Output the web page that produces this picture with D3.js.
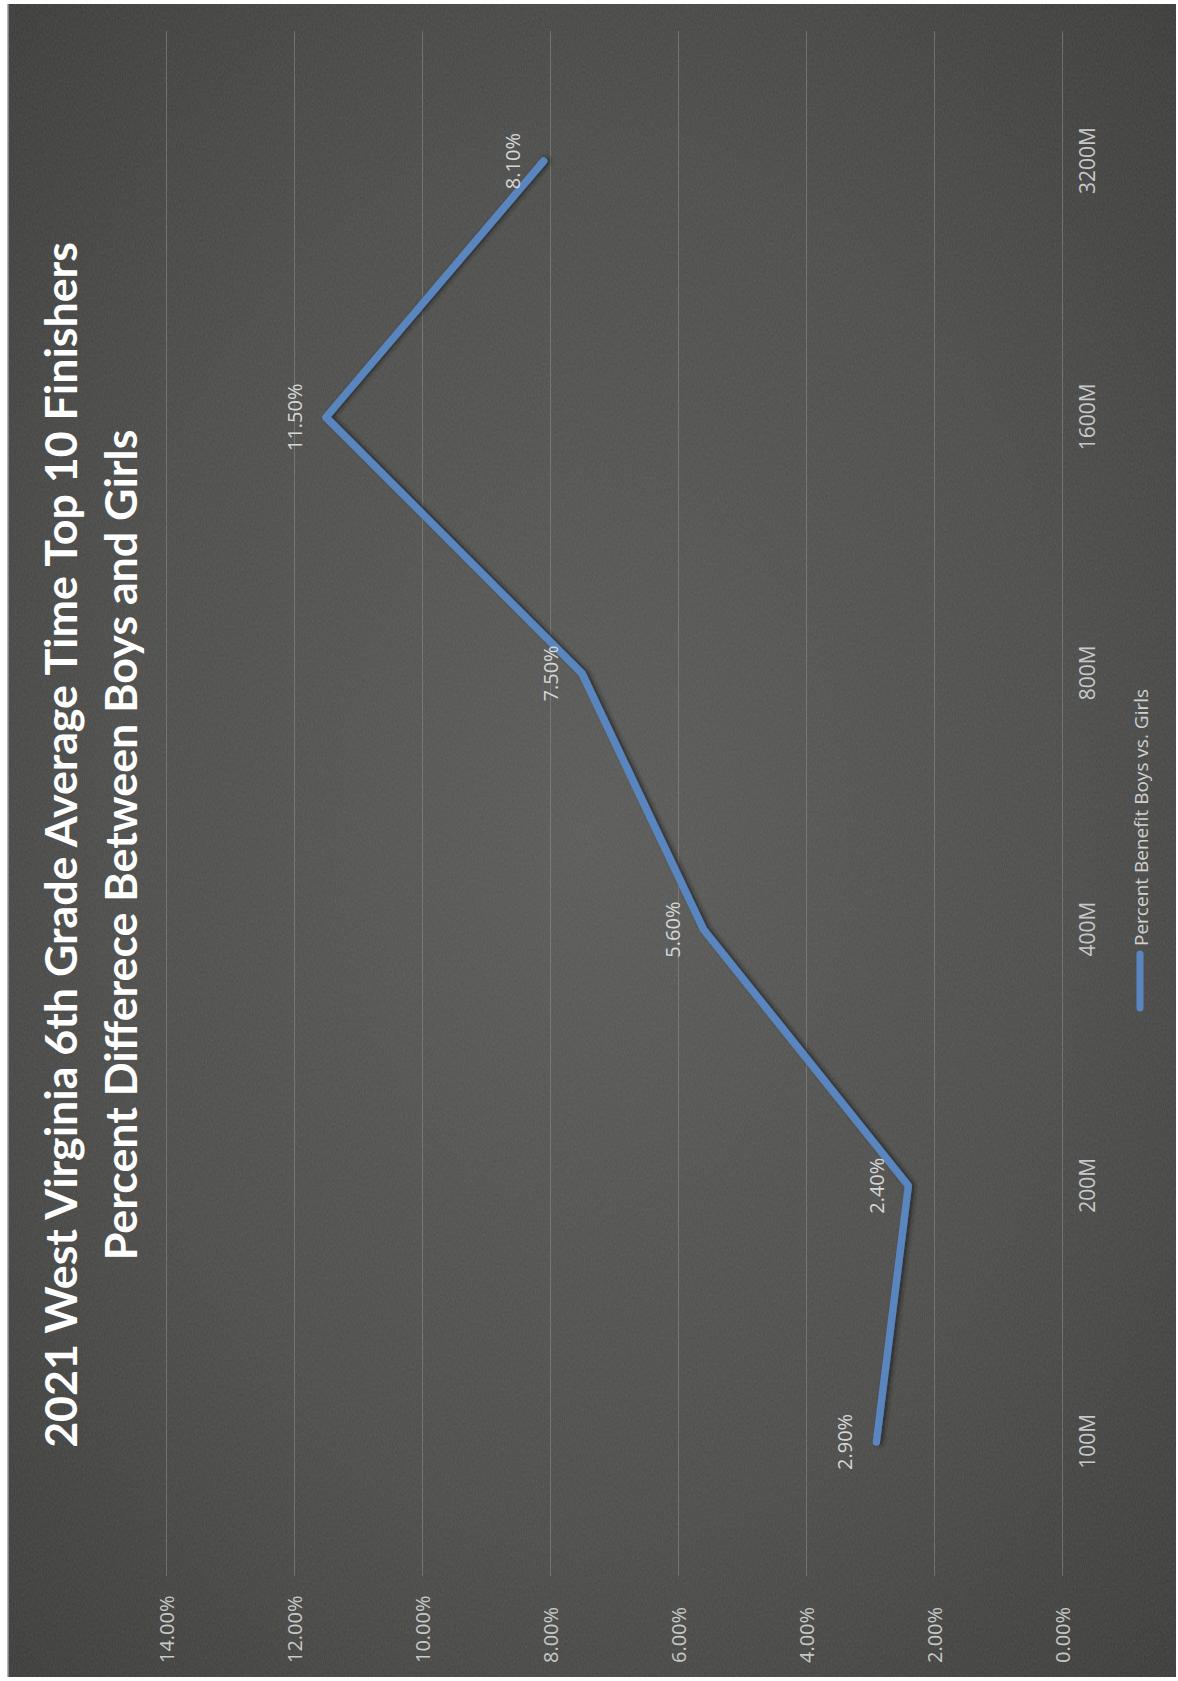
<!DOCTYPE html>
<html>
<head>
<meta charset="utf-8">
<script src="https://cdn.jsdelivr.net/npm/d3@7"></script>
<style>
  html, body { margin: 0; padding: 0; background: #ffffff; }
  svg { display: block; }
</style>
</head>
<body>
<svg id="chart" width="1178" height="1681"></svg>
<script>
// ---- data ----
const categories = ["100M", "200M", "400M", "800M", "1600M", "3200M"];
const percentBenefit = [2.9, 2.4, 5.6, 7.5, 11.5, 8.1];
const dataLabels = ["2.90%", "2.40%", "5.60%", "7.50%", "11.50%", "8.10%"];
const valueTicks = [0, 2, 4, 6, 8, 10, 12, 14];
const valueTickLabels = ["0.00%", "2.00%", "4.00%", "6.00%", "8.00%", "10.00%", "12.00%", "14.00%"];
const titleLines = ["2021 West Virginia 6th Grade Average Time Top 10 Finishers",
                    "Percent Differece Between Boys and Girls"];
const seriesName = "Percent Benefit Boys vs. Girls";

// ---- page ----
const W = 1178, H = 1681;
const svg = d3.select("#chart");
const defs = svg.append("defs");

const grad = defs.append("radialGradient").attr("id", "bg")
  .attr("cx", "50%").attr("cy", "50%").attr("r", "70%");
grad.append("stop").attr("offset", "0%").attr("stop-color", "#595a58");
grad.append("stop").attr("offset", "60%").attr("stop-color", "#4a4b49");
grad.append("stop").attr("offset", "100%").attr("stop-color", "#393a38");

const noise = defs.append("filter").attr("id", "noise")
  .attr("x", 0).attr("y", 0).attr("width", "100%").attr("height", "100%");
noise.append("feTurbulence").attr("type", "fractalNoise")
  .attr("baseFrequency", "0.9 0.35").attr("numOctaves", 2).attr("seed", 3).attr("result", "t");
noise.append("feColorMatrix").attr("type", "matrix")
  .attr("values", "0 0 0 0 0.5  0 0 0 0 0.5  0 0 0 0 0.5  0 0 0 0.18 0");

const shadow = defs.append("filter").attr("id", "shadow")
  .attr("x", "-10%").attr("y", "-10%").attr("width", "120%").attr("height", "120%");
shadow.append("feDropShadow").attr("dx", 0).attr("dy", 3).attr("stdDeviation", 2)
  .attr("flood-color", "#1a1a1a").attr("flood-opacity", 0.7);

// dark chart background (page coordinates)
svg.append("rect").attr("x", 8).attr("y", 4).attr("width", 1168).attr("height", 1673)
  .attr("fill", "url(#bg)");
svg.append("rect").attr("x", 8).attr("y", 4).attr("width", 1168).attr("height", 1673)
  .attr("fill", "#808080").attr("filter", "url(#noise)").attr("opacity", 0.9);
svg.append("line").attr("x1", 8).attr("x2", 8).attr("y1", 4).attr("y2", 1677)
  .attr("stroke", "#9a9a9a").attr("stroke-width", 1.5);

// ---- chart drawn in its original (unrotated) orientation, then rotated -90deg ----
// original u (horizontal) -> page y = H - u ; original v (vertical) -> page x = v
const g = svg.append("g").attr("transform", `translate(0,${H}) rotate(-90)`);

const plotLeft = 111, plotRight = 1648;   // original horizontal extent of plot
const x = d3.scalePoint().domain(categories).range([plotLeft, plotRight]).padding(0.5);
const y = d3.scaleLinear().domain([0, 14]).range([1062, 166]);

const font = "'Open Sans', 'Noto Sans', sans-serif";

// gridlines
const grid = g.append("g").attr("transform", `translate(${plotLeft - 6},0)`)
  .call(d3.axisLeft(y).tickValues(valueTicks).tickSize(-(plotRight - plotLeft + 8)).tickFormat(""));
grid.select(".domain").remove();
grid.selectAll(".tick line").attr("stroke", "#8a8a8a").attr("stroke-opacity", 0.6).attr("stroke-width", 1);

// value axis labels
const yAxis = g.append("g").attr("transform", "translate(18,0)")
  .call(d3.axisLeft(y).tickValues(valueTicks).tickSize(0)
    .tickFormat((d, i) => valueTickLabels[i]));
yAxis.select(".domain").remove();
yAxis.selectAll(".tick text")
  .attr("x", 0).attr("dy", "0.35em").attr("text-anchor", "start")
  .attr("fill", "#c8c8c8").style("font-family", font).style("font-size", "20px");

// category axis labels
const xAxis = g.append("g").attr("transform", "translate(0,1062)")
  .call(d3.axisBottom(x).tickSize(0));
xAxis.select(".domain").remove();
xAxis.selectAll(".tick text")
  .attr("y", 33).attr("dy", 0)
  .attr("fill", "#c8c8c8").style("font-family", font).style("font-size", "21px");

// the line
const pts = categories.map((c, i) => ({ c, v: percentBenefit[i], label: dataLabels[i] }));
g.append("path").datum(pts)
  .attr("fill", "none")
  .attr("stroke", "#5a86c0")
  .attr("stroke-width", 7.5)
  .attr("stroke-linejoin", "round")
  .attr("stroke-linecap", "round")
  .attr("filter", "url(#shadow)")
  .attr("d", d3.line().x(d => x(d.c)).y(d => y(d.v)));

// data labels
g.append("g").selectAll("text").data(pts).join("text")
  .attr("x", d => x(d.c))
  .attr("y", d => y(d.v) - 24)
  .attr("text-anchor", "middle")
  .attr("fill", "#d6d6d6")
  .style("font-family", font).style("font-size", "20px")
  .text(d => d.label);

// title
const titleG = g.append("g");
const t1 = titleG.append("text").attr("x", 836).attr("y", 77).attr("text-anchor", "middle")
  .attr("fill", "#ffffff").style("font-family", "Lato, 'Open Sans', sans-serif")
  .style("font-weight", "bold").style("font-size", "40px").text(titleLines[0]);
const natural = t1.node().getComputedTextLength();
const fs = Math.max(30, Math.min(50, 40 * 1206 / natural));
t1.style("font-size", fs + "px");
titleG.append("text").attr("x", 836).attr("y", 137).attr("text-anchor", "middle")
  .attr("fill", "#ffffff").style("font-family", "Lato, 'Open Sans', sans-serif")
  .style("font-weight", "bold").style("font-size", fs + "px").text(titleLines[1]);

// legend
const legend = g.append("g");
legend.append("line").attr("x1", 673).attr("x2", 727).attr("y1", 1140).attr("y2", 1140)
  .attr("stroke", "#5a86c0").attr("stroke-width", 7).attr("stroke-linecap", "round");
legend.append("text").attr("x", 735).attr("y", 1148)
  .attr("fill", "#d0d0d0").style("font-family", font).style("font-size", "19px")
  .text(seriesName);
</script>
</body>
</html>
